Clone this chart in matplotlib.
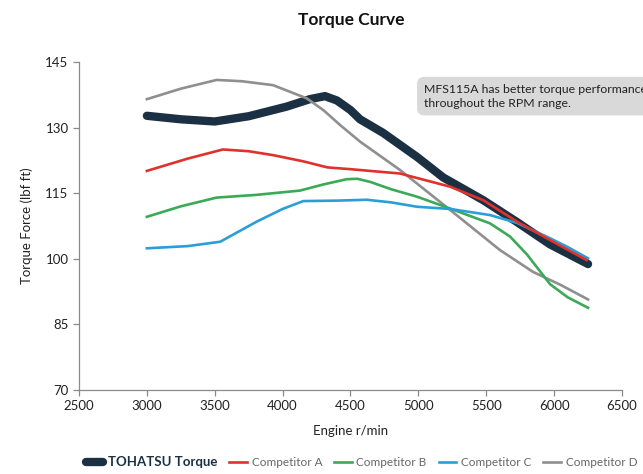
import numpy as np
import matplotlib.pyplot as plt
from matplotlib.lines import Line2D

plt.rcParams['font.family'] = ['Lato', 'DejaVu Sans']

# readings (rpm, lbf ft)
tohatsu_rpm = [3000, 3250, 3500, 3750, 4030, 4200, 4312, 4400, 4500, 4570, 4740, 4990, 5183, 5478, 5727, 5970, 6250]
tohatsu_val = [132.7, 131.9, 131.4, 132.6, 134.8, 136.5, 137.2, 136.2, 134.0, 131.9, 128.8, 123.3, 118.6, 113.4, 108.4, 103.3, 98.8]

a_rpm = [3000, 3300, 3560, 3750, 3930, 4150, 4330, 4496, 4865, 5233, 5478, 5727, 5970, 6240]
a_val = [120.1, 122.9, 125.0, 124.6, 123.7, 122.3, 120.9, 120.5, 119.5, 116.5, 113.4, 108.5, 104.3, 99.7]

b_rpm = [3000, 3250, 3514, 3800, 4128, 4300, 4472, 4550, 4644, 4800, 4990, 5233, 5528, 5675, 5800, 5970, 6100, 6250]
b_val = [109.6, 112.0, 114.0, 114.6, 115.6, 117.0, 118.2, 118.3, 117.6, 115.9, 114.2, 111.5, 108.1, 105.1, 101.0, 94.2, 91.2, 88.8]

c_rpm = [3000, 3300, 3540, 3809, 4000, 4152, 4400, 4620, 4800, 4990, 5233, 5528, 5727, 5970, 6100, 6250]
c_val = [102.4, 102.9, 103.9, 108.5, 111.4, 113.2, 113.3, 113.5, 112.9, 111.9, 111.4, 110.0, 108.2, 104.7, 102.7, 100.1]

d_rpm = [3000, 3250, 3514, 3700, 3930, 4177, 4300, 4423, 4570, 4865, 5233, 5601, 5845, 6050, 6250]
d_val = [136.5, 138.9, 140.9, 140.6, 139.7, 136.7, 134.0, 130.6, 126.8, 120.3, 111.2, 102.0, 97.0, 94.0, 90.7]

fig = plt.figure(figsize=(6.43, 4.74), dpi=100)
ax = fig.add_axes([0.1229, 0.1772, 0.8444, 0.692])

ax.plot(tohatsu_rpm, tohatsu_val, color='#1c3044', lw=6, solid_capstyle='round',
        solid_joinstyle='round', zorder=2)
ax.plot(d_rpm, d_val, color='#8f8f8f', lw=1.9, solid_joinstyle='round', zorder=3)
ax.plot(b_rpm, b_val, color='#3aaa57', lw=1.9, solid_joinstyle='round', zorder=3)
ax.plot(c_rpm, c_val, color='#2a9fd6', lw=1.9, solid_joinstyle='round', zorder=3)
ax.plot(a_rpm, a_val, color='#e0322d', lw=1.9, solid_joinstyle='round', zorder=4)

ax.set_xlim(2500, 6500)
ax.set_ylim(70, 145)
ax.set_xticks(np.arange(2500, 6501, 500))
ax.set_yticks(np.arange(70, 146, 15))
for s in ['top', 'right']:
    ax.spines[s].set_visible(False)
for s in ['left', 'bottom']:
    ax.spines[s].set_color('#8a8a8a')
    ax.spines[s].set_linewidth(0.9)
ax.tick_params(colors='#8a8a8a', labelcolor='#222222', labelsize=9.5, length=4, width=0.9)

ax.set_xlabel('Engine r/min', fontsize=9.5, color='#222222', labelpad=9)
ax.set_ylabel('Torque Force (lbf ft)', fontsize=9.5, color='#222222', labelpad=9)
fig.text(0.547, 0.958, 'Torque Curve', ha='center', va='center', fontsize=12.5,
         color='#111111', family=['Lato', 'DejaVu Sans'], fontweight='bold')

ax.text(5040, 137.2, 'MFS115A has better torque performance\nthroughout the RPM range.',
        fontsize=8.8, color='#222222', va='center', ha='left', linespacing=1.35,
        bbox=dict(boxstyle='round,pad=0.55,rounding_size=0.6', fc='#d9d9d9', ec='none'),
        clip_on=False, zorder=6)

handles = [
    Line2D([], [], color='#1c3044', lw=6, solid_capstyle='round'),
    Line2D([], [], color='#e0322d', lw=1.9),
    Line2D([], [], color='#3aaa57', lw=1.9),
    Line2D([], [], color='#2a9fd6', lw=1.9),
    Line2D([], [], color='#8f8f8f', lw=1.9),
]
labels = ['TOHATSU Torque', 'Competitor A', 'Competitor B', 'Competitor C', 'Competitor D']
leg = fig.legend(handles, labels, loc='center', bbox_to_anchor=(0.562, 0.026), ncol=5,
                 frameon=False, fontsize=8.5, handlelength=1.5, handletextpad=0.4,
                 columnspacing=1.0, labelcolor=['#1c3044', '#666666', '#666666', '#666666', '#666666'])
leg.get_texts()[0].set_fontweight('bold')
leg.get_texts()[0].set_fontsize(9.5)

fig.savefig('out.png', dpi=100)
